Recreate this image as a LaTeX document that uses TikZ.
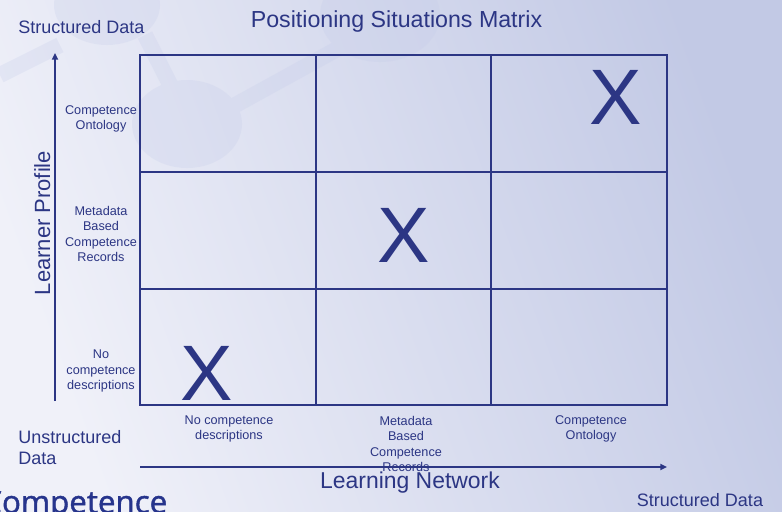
\documentclass[tikz,border=0pt]{standalone}
\usepackage{fontspec}
\setmainfont{Liberation Sans}
\newfontfamily\slidefont{Open Sans}[FakeBold=1.4]
\usepackage{xcolor}
\usetikzlibrary{positioning,arrows.meta,calc}
\definecolor{cNavy}{RGB}{44,54,132}
\definecolor{cDeep}{RGB}{38,52,140}
\definecolor{cBgL}{RGB}{240,241,249}
\definecolor{cBgD}{RGB}{194,201,229}
\definecolor{cMol}{RGB}{196,203,233}

\begin{document}
\begin{tikzpicture}[x=0.75pt,y=-0.75pt,text=cNavy]
\tikzset{
  lbl/.style={font=\fontsize{9.5}{11.6}\selectfont,align=center,inner sep=0pt},
  big/.style={font=\fontsize{13.5}{16.2}\selectfont,inner sep=0pt},
  xmk/.style={font=\fontsize{59}{59}\selectfont,inner sep=0pt,anchor=base},
  ar/.style={draw=cNavy,line width=1.5pt,-{Triangle[length=5pt,width=4.5pt]}}
}
\useasboundingbox (0,0) rectangle (782,511);
\clip (0,0) rectangle (782,511);
% slide background
\shade[left color=cBgL,right color=cBgD,shading angle=110] (0,0) rectangle (782,511);
\begin{scope}[transparency group,opacity=.25]
  \draw[cMol,line width=12pt] (0,75) -- (60,45);
  \draw[cMol,line width=12pt] (145,35) -- (178,100);
  \draw[cMol,line width=12pt] (230,108) -- (350,42);
  \fill[cMol] (107,5) ellipse [x radius=53,y radius=40];
  \fill[cMol] (380,15) ellipse [x radius=60,y radius=47];
  \fill[cMol] (187,124) ellipse [x radius=55,y radius=44];
\end{scope}

% headings
\node[font=\fontsize{17.4}{20}\selectfont,anchor=base,inner sep=0pt] (title) at (396.5,27.7) {Positioning Situations Matrix};
\node[big,anchor=base west] (ytop) at (18,33.3) {Structured Data};
\node[big,anchor=west,align=left] (xlow) at (18,447.5) {Unstructured\\Data};
\node[big,anchor=base west] (xtop) at (636.7,506.7) {Structured Data};
\node[font=\slidefont\fontsize{23.5}{24}\selectfont,anchor=base west,inner sep=0pt,text=cDeep] (brand) at (-18,513) {Competence};

% matrix
\coordinate (nw) at (140,55);
\coordinate (se) at (667,405);
\foreach \x in {316,491} \draw[cNavy,line width=1.1pt] (\x,55) -- (\x,405);
\foreach \y in {172,289} \draw[cNavy,line width=1.1pt] (140,\y) -- (667,\y);
\draw[cNavy,line width=2.2pt] (nw) rectangle (se);
\node[xmk] (xa) at (207,400.7) {X};
\node[xmk] (xb) at (404,262.7) {X};
\node[xmk] (xc) at (616,124) {X};

% learner profile axis
\node[lbl] (r3) at (101,119) {Competence\\Ontology};
\node[lbl] (r2) at (101,234) {Metadata\\Based\\Competence\\Records};
\node[lbl] (r1) at (101,371) {No\\competence\\descriptions};
\node[font=\fontsize{16.5}{20}\selectfont,anchor=base,rotate=90,inner sep=0pt] (yname) at (50,223) {Learner Profile};
\coordinate (y0) at (55,401);
\coordinate (y1) at (55,53);
\draw[ar] (y0) -- (y1);

% learning network axis
\node[lbl] (c1) at (229,429) {No competence\\descriptions};
\node[lbl] (c2) at (406,444) {Metadata\\Based\\Competence\\Records};
\node[lbl] (c3) at (591,429) {Competence\\Ontology};
\node[font=\fontsize{17.2}{20}\selectfont,anchor=base,inner sep=0pt] (xname) at (410,488.3) {Learning Network};
\coordinate (x0) at (140,467);
\coordinate (x1) at (667,467);
\draw[ar] (x0) -- (x1);
\end{tikzpicture}
\end{document}
